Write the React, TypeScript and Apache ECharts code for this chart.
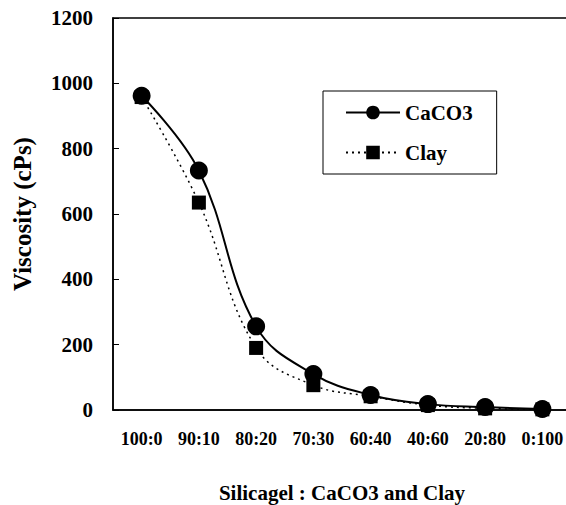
import React, { useEffect, useRef } from "react";
import * as echarts from "echarts";

const categories = ["100:0", "90:10", "80:20", "70:30", "60:40", "40:60", "20:80", "0:100"];
const caco3 = [962, 733, 256, 110, 46, 18, 9, 3];
const clay = [958, 635, 190, 76, 42, 15, 5, 2];

const FONT = "'Liberation Serif', 'Times New Roman', serif";

export default function App() {
  const ref = useRef<HTMLDivElement>(null);
  useEffect(() => {
    if (!ref.current) return;
    const chart = echarts.init(ref.current, null, { renderer: "svg" });
    chart.setOption({
      animation: false,
      backgroundColor: "#fff",
      textStyle: { fontFamily: FONT, color: "#000" },
      grid: {
        show: true,
        borderColor: "#000",
        borderWidth: 1.5,
        left: 113,
        top: 18,
        width: 458,
        height: 392,
        outerBoundsMode: "none",
        containLabel: false,
      },
      legend: {
        orient: "vertical",
        left: 323,
        top: 91,
        padding: [11, 24, 11, 22],
        itemGap: 19,
        itemWidth: 54,
        itemHeight: 17,
        borderColor: "#000",
        borderWidth: 1,
        backgroundColor: "#fff",
        textStyle: { fontFamily: FONT, fontWeight: "bold", fontSize: 21, color: "#000" },
        data: ["CaCO3", "Clay"],
      },
      xAxis: {
        type: "category",
        data: categories,
        boundaryGap: true,
        axisLine: { lineStyle: { color: "#000", width: 1.5 } },
        axisTick: { inside: true, length: 6, lineStyle: { color: "#000" } },
        axisLabel: { fontFamily: FONT, fontWeight: "bold", fontSize: 18, color: "#000", margin: 20 },
        name: "Silicagel : CaCO3 and Clay",
        nameLocation: "middle",
        nameGap: 72,
        nameTextStyle: { fontFamily: FONT, fontWeight: "bold", fontSize: 21, color: "#000" },
      },
      yAxis: {
        type: "value",
        min: 0,
        max: 1200,
        interval: 200,
        splitLine: { show: false },
        axisLine: { show: true, lineStyle: { color: "#000", width: 1.5 } },
        axisTick: { show: true, inside: true, length: 6, lineStyle: { color: "#000" } },
        axisLabel: {
          fontFamily: FONT,
          fontWeight: "bold",
          fontSize: 21,
          color: "#000",
          margin: 20,
          formatter: (v: number) => String(v),
        },
        name: "Viscosity (cPs)",
        nameLocation: "middle",
        nameGap: 78,
        nameTextStyle: { fontFamily: FONT, fontWeight: "bold", fontSize: 25, color: "#000" },
      },
      series: [
        {
          name: "CaCO3",
          type: "line",
          data: caco3,
          smooth: 0.4,
          symbol: "circle",
          symbolSize: 18,
          itemStyle: { color: "#000" },
          lineStyle: { color: "#000", width: 2 },
          z: 3,
        },
        {
          name: "Clay",
          type: "line",
          data: clay,
          smooth: 0.4,
          symbol: "rect",
          symbolSize: 14,
          itemStyle: { color: "#000" },
          lineStyle: { color: "#000", width: 1.5, type: [2, 4] },
          z: 2,
        },
      ],
    });
    return () => chart.dispose();
  }, []);
  return (
    <div
      ref={ref}
      style={{ position: "absolute", left: 0, top: 0, width: 566, height: 505 }}
    />
  );
}
